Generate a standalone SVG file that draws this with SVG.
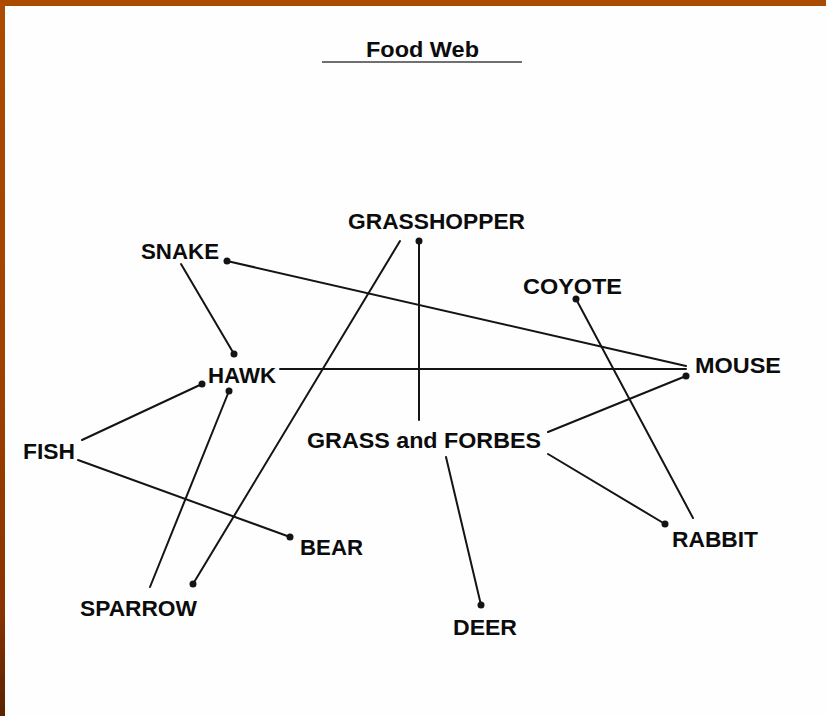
<svg xmlns="http://www.w3.org/2000/svg" width="826" height="716" viewBox="0 0 826 716">
<defs>
<linearGradient id="leftbar" x1="0" y1="0" x2="0" y2="1">
<stop offset="0" stop-color="#ad4c00"/>
<stop offset="0.5" stop-color="#a04200"/>
<stop offset="0.85" stop-color="#8a3300"/>
<stop offset="1" stop-color="#5a2200"/>
</linearGradient>
<style>
.lbl{font-family:"Liberation Sans",Arial,sans-serif;font-weight:bold;font-size:22px;fill:#0c0c0c}
.ln{stroke:#141414;stroke-width:2;fill:none;stroke-linecap:round}
.dot{fill:#141414}
</style>
</defs>
<rect x="0" y="0" width="826" height="716" fill="#fefefe"/>
<rect x="0" y="0" width="826" height="6" fill="#aa4b00"/>
<rect x="0" y="0" width="5" height="716" fill="url(#leftbar)"/>
<g id="title">
<text class="lbl" x="366" y="57" textLength="113" lengthAdjust="spacingAndGlyphs">Food Web</text>
<line x1="322" y1="62" x2="522" y2="62" stroke="#707070" stroke-width="2"/>
</g>
<g id="connectors">
<line class="ln" x1="227" y1="261" x2="686" y2="366"/>
<line class="ln" x1="181" y1="264" x2="234" y2="354"/>
<line class="ln" x1="280" y1="369" x2="686" y2="369"/>
<line class="ln" x1="400" y1="241" x2="193" y2="584"/>
<line class="ln" x1="419" y1="241" x2="419" y2="420"/>
<line class="ln" x1="82" y1="440" x2="202" y2="384"/>
<line class="ln" x1="150" y1="587" x2="229" y2="391"/>
<line class="ln" x1="78" y1="460" x2="290" y2="537"/>
<line class="ln" x1="576" y1="299" x2="693" y2="518"/>
<line class="ln" x1="548" y1="454" x2="665" y2="524"/>
<line class="ln" x1="446" y1="457" x2="481" y2="605"/>
<line class="ln" x1="548" y1="432" x2="686" y2="376"/>
<circle class="dot" cx="227" cy="261" r="3.5"/>
<circle class="dot" cx="234" cy="354" r="3.5"/>
<circle class="dot" cx="193" cy="584" r="3.5"/>
<circle class="dot" cx="419" cy="241" r="3.5"/>
<circle class="dot" cx="202" cy="384" r="3.5"/>
<circle class="dot" cx="229" cy="391" r="3.5"/>
<circle class="dot" cx="290" cy="537" r="3.5"/>
<circle class="dot" cx="576" cy="299" r="3.5"/>
<circle class="dot" cx="665" cy="524" r="3.5"/>
<circle class="dot" cx="481" cy="605" r="3.5"/>
<circle class="dot" cx="686" cy="376" r="3.5"/>
</g>
<g id="grasshopper"><text class="lbl" x="348" y="229" textLength="177" lengthAdjust="spacingAndGlyphs">GRASSHOPPER</text></g>
<g id="snake"><text class="lbl" x="141" y="259" textLength="78" lengthAdjust="spacingAndGlyphs">SNAKE</text></g>
<g id="coyote"><text class="lbl" x="523" y="294" textLength="99" lengthAdjust="spacingAndGlyphs">COYOTE</text></g>
<g id="mouse"><text class="lbl" x="695" y="373" textLength="86" lengthAdjust="spacingAndGlyphs">MOUSE</text></g>
<g id="hawk"><text class="lbl" x="208" y="383" textLength="68" lengthAdjust="spacingAndGlyphs">HAWK</text></g>
<g id="fish"><text class="lbl" x="23" y="459" textLength="52" lengthAdjust="spacingAndGlyphs">FISH</text></g>
<g id="grass"><text class="lbl" x="307" y="448" textLength="234" lengthAdjust="spacingAndGlyphs">GRASS and FORBES</text></g>
<g id="bear"><text class="lbl" x="300" y="555" textLength="63" lengthAdjust="spacingAndGlyphs">BEAR</text></g>
<g id="rabbit"><text class="lbl" x="672" y="547" textLength="86" lengthAdjust="spacingAndGlyphs">RABBIT</text></g>
<g id="sparrow"><text class="lbl" x="80" y="616" textLength="117" lengthAdjust="spacingAndGlyphs">SPARROW</text></g>
<g id="deer"><text class="lbl" x="453" y="635" textLength="64" lengthAdjust="spacingAndGlyphs">DEER</text></g>
</svg>
